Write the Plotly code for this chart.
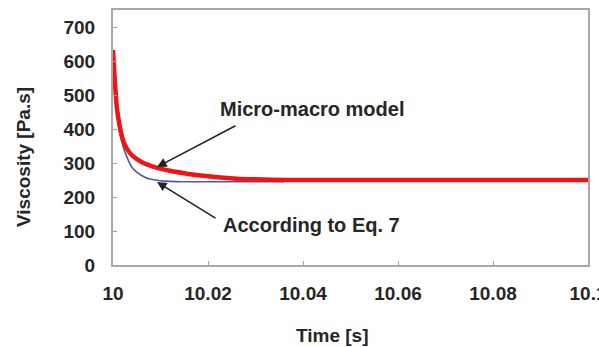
import plotly.graph_objects as go

# Data
t_micro = [10.0, 10.0003, 10.0008, 10.0014, 10.0021, 10.003, 10.0042, 10.006, 10.0088,
           10.012, 10.015, 10.018, 10.022, 10.026, 10.030, 10.036, 10.05, 10.07,
           10.09, 10.1]
v_micro = [632, 560, 465, 410, 368, 340, 320, 303, 288, 277, 270, 264, 258, 254, 252,
           250, 250, 250, 250, 250]

t_eq7 = [10.0, 10.0003, 10.0008, 10.0014, 10.0021, 10.003, 10.004, 10.005, 10.0067,
         10.008, 10.010, 10.012, 10.015, 10.02, 10.03, 10.036]
v_eq7 = [600, 530, 445, 390, 350, 315, 287, 273, 258, 252, 248, 246, 245, 245, 245,
         245]

x_ticks = [10, 10.02, 10.04, 10.06, 10.08, 10.1]
x_tick_text = ["10", "10.02", "10.04", "10.06", "10.08", "10.1"]
y_ticks = [0, 100, 200, 300, 400, 500, 600, 700]

FONT = "Liberation Sans, Arial, sans-serif"
TXT = "#262626"

fig = go.Figure()
fig.add_trace(go.Scatter(x=t_eq7, y=v_eq7, mode="lines",
                         line=dict(color="#4a5aa8", width=1.6, shape="spline", smoothing=0.6),
                         showlegend=False))
fig.add_trace(go.Scatter(x=t_micro, y=v_micro, mode="lines",
                         line=dict(color="#f01414", width=4.5, shape="spline", smoothing=0.6),
                         showlegend=False))

W, H = 599, 347
L, R, T, B = 113, 11, 10, 82
pw, ph = W - L - R, H - T - B

def px(x):
    return (x - L) / pw

def py(y):
    return (H - B - y) / ph

fig.update_layout(
    width=W, height=H,
    margin=dict(l=L, r=R, t=T, b=B, autoexpand=False),
    paper_bgcolor="white", plot_bgcolor="white",
    font=dict(family=FONT, color=TXT),
    xaxis=dict(range=[10, 10.1], tickvals=x_ticks, ticktext=x_tick_text,
               ticks="inside", ticklen=4, tickcolor="#a0a0a0",
               showline=True, mirror=True, linecolor="#a8a8a8", linewidth=2,
               showgrid=False, zeroline=False, automargin=False,
               tickfont=dict(family=FONT, size=19, color=TXT, weight="bold"),
               ticklabelstandoff=10, ticklabeloverflow="allow"),
    yaxis=dict(range=[0, 750], tickvals=y_ticks,
               ticks="inside", ticklen=4, tickcolor="#a0a0a0",
               showline=True, mirror=True, linecolor="#a8a8a8", linewidth=2,
               showgrid=False, zeroline=False, automargin=False,
               tickfont=dict(family=FONT, size=19, color=TXT, weight="bold"),
               ticklabelstandoff=12),
)

ann_font = dict(family=FONT, size=20, color=TXT, weight="bold")
fig.add_annotation(xref="paper", yref="paper", x=px(218), y=py(109),
                   text="Micro-macro model", showarrow=False,
                   xanchor="left", yanchor="middle", font=ann_font)
fig.add_annotation(xref="paper", yref="paper", x=px(221), y=py(225),
                   text="According to Eq. 7", showarrow=False,
                   xanchor="left", yanchor="middle", font=ann_font)
# arrows
fig.add_annotation(xref="paper", yref="paper", x=px(157), y=py(167),
                   ax=237 - 157, ay=125 - 167, text="", showarrow=True,
                   arrowhead=2, arrowsize=1.2, arrowwidth=1.6, arrowcolor="#222")
fig.add_annotation(xref="paper", yref="paper", x=px(157), y=py(182),
                   ax=217 - 157, ay=219 - 182, text="", showarrow=True,
                   arrowhead=2, arrowsize=1.2, arrowwidth=1.6, arrowcolor="#222")
# axis titles
fig.add_annotation(xref="paper", yref="paper", x=px(332), y=py(335),
                   text="Time [s]", showarrow=False,
                   xanchor="center", yanchor="middle",
                   font=dict(family=FONT, size=19, color=TXT, weight="bold"))
fig.add_annotation(xref="paper", yref="paper", x=px(23), y=py(157),
                   text="Viscosity [Pa.s]", showarrow=False, textangle=-90,
                   xanchor="center", yanchor="middle",
                   font=dict(family=FONT, size=19, color=TXT, weight="bold"))

fig.write_html("out.html")
